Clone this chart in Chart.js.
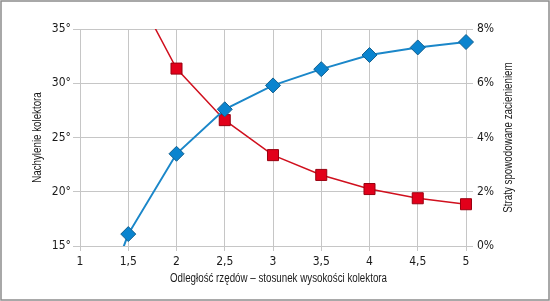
<!DOCTYPE html>
<html>
<head>
<meta charset="utf-8">
<script src="https://cdn.jsdelivr.net/npm/chart.js@4.4.1/dist/chart.umd.min.js"></script>
<style>
  html, body { margin: 0; padding: 0; background: #fff; }
  #wrap { width: 550px; height: 301px; position: relative; }
</style>
</head>
<body>
<div id="wrap"><canvas id="c" width="550" height="301"></canvas></div>
<script>
// ---- data ----
const categories = ['1', '1,5', '2', '2,5', '3', '3,5', '4', '4,5', '5'];
const tiltDeg = [4, 16.1, 23.5, 27.6, 29.8, 31.3, 32.6, 33.3, 33.8];      // Nachylenie kolektora (left axis)
const lossPct = [null, 9.9, 6.54, 4.64, 3.35, 2.62, 2.10, 1.76, 1.54];   // Straty (right axis)
const leftTicks = [15, 20, 25, 30, 35];
const rightTicks = [0, 2, 4, 6, 8];
const xTitle = 'Odległość rzędów – stosunek wysokości kolektora';
const leftTitle = 'Nachylenie kolektora';
const rightTitle = 'Straty spowodowane zacienieniem';

const FONT = "'DejaVu Sans Condensed', 'Liberation Sans', sans-serif";
const TITLE_FONT = "12.5px 'Liberation Sans', Arial, sans-serif";
const GRID = '#c6c6c6';
const TXT = '#1a1a1a';

// axis titles drawn as condensed text (the reference uses a narrow typeface)
const framePlugin = {
  id: 'frame',
  beforeDraw(chart) {
    const ctx = chart.ctx;
    ctx.save();
    ctx.fillStyle = '#fff';
    ctx.fillRect(0, 0, chart.width, chart.height);
    ctx.restore();
  },
  afterDraw(chart) {
    const ctx = chart.ctx;
    const a = chart.chartArea;
    const midY = (a.top + a.bottom) / 2;
    ctx.save();
    ctx.strokeStyle = '#8c8c8c';
    ctx.lineWidth = 1.5;
    ctx.strokeRect(1, 1, chart.width - 2, chart.height - 2);
    ctx.fillStyle = TXT;
    ctx.font = TITLE_FONT;
    ctx.textAlign = 'center';
    ctx.textBaseline = 'middle';
    const sx = 217 / ctx.measureText(xTitle).width;
    const drawText = (text, x, y, rot) => {
      ctx.save();
      ctx.translate(x, y);
      ctx.rotate(rot);
      ctx.scale(sx, 1);
      ctx.fillText(text, 0, 0);
      ctx.restore();
    };
    drawText(xTitle, 278.5, 279, 0);
    drawText(leftTitle, 37.5, midY, -Math.PI / 2);
    drawText(rightTitle, 509, midY, -Math.PI / 2);
    ctx.restore();
  }
};

new Chart(document.getElementById('c'), {
  type: 'line',
  data: {
    labels: categories,
    datasets: [
      {
        label: leftTitle,
        data: tiltDeg,
        yAxisID: 'y',
        borderColor: '#1b87c9',
        borderWidth: 2,
        backgroundColor: '#0a84cf',
        pointStyle: 'rectRot',
        pointRadius: 7.5,
        pointBorderColor: '#13608f',
        pointBorderWidth: 1,
        pointBackgroundColor: '#0a84cf',
        tension: 0
      },
      {
        label: rightTitle,
        data: lossPct,
        yAxisID: 'y2',
        borderColor: '#d0101e',
        borderWidth: 1.5,
        backgroundColor: '#e2001a',
        pointStyle: 'rect',
        pointRadius: 7.8,
        pointBorderColor: '#980010',
        pointBorderWidth: 1,
        pointBackgroundColor: '#e2001a',
        tension: 0
      }
    ]
  },
  options: {
    responsive: false,
    animation: false,
    devicePixelRatio: 1,
    layout: { padding: { top: 29, left: 0, right: 0, bottom: 0 } },
    plugins: {
      legend: { display: false },
      tooltip: { enabled: false }
    },
    scales: {
      x: {
        type: 'category',
        offset: false,
        grid: { color: GRID, lineWidth: 1, tickLength: 5, offset: false, tickColor: GRID },
        border: { color: GRID },
        ticks: { color: TXT, font: { family: FONT, size: 12 }, padding: 4, maxRotation: 0, autoSkip: false },
        title: { display: false },
        afterFit(s) { s.height = 55; }
      },
      y: {
        position: 'left',
        min: 15, max: 35,
        afterBuildTicks(s) { s.ticks = leftTicks.map(v => ({ value: v })); },
        grid: { color: GRID, lineWidth: 1, tickLength: 7, tickColor: GRID },
        border: { color: GRID },
        ticks: { color: TXT, font: { family: FONT, size: 12 }, padding: 2, callback: v => v + '°' },
        title: { display: false },
        afterFit(s) { s.width = 80; }
      },
      y2: {
        position: 'right',
        min: 0, max: 8,
        afterBuildTicks(s) { s.ticks = rightTicks.map(v => ({ value: v })); },
        grid: { drawOnChartArea: false, color: GRID, lineWidth: 1, tickLength: 7, tickColor: GRID },
        border: { color: GRID },
        ticks: { color: TXT, font: { family: FONT, size: 12 }, padding: 4, callback: v => v + '%' },
        title: { display: false },
        afterFit(s) { s.width = 84; }
      }
    }
  },
  plugins: [framePlugin]
});
</script>
</body>
</html>
